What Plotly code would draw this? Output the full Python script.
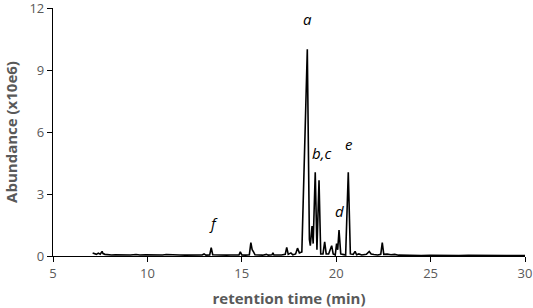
import plotly.graph_objects as go

time_min = [7.10, 7.20, 7.30, 7.40, 7.50, 7.60, 7.65, 7.75, 7.90, 8.10, 8.30, 8.50, 8.70, 8.90,
            9.10, 9.40, 9.60, 9.90, 10.2, 10.5, 10.8, 11.0, 11.3, 11.5, 11.7, 12.0, 12.3, 12.6,
            12.9, 13.0, 13.1, 13.3, 13.38, 13.46, 13.6, 13.8, 14.0, 14.2, 14.4, 14.6, 14.85, 14.92,
            15.0, 15.2, 15.4, 15.48, 15.55, 15.62, 15.7, 15.9, 16.1, 16.3, 16.4, 16.6, 16.65, 16.7,
            16.9, 17.1, 17.3, 17.38, 17.46, 17.6, 17.7, 17.85, 17.95, 18.05, 18.18, 18.47, 18.58,
            18.63, 18.72, 18.78, 18.89, 18.98, 19.09, 19.18, 19.3, 19.39, 19.47, 19.6, 19.68, 19.76,
            19.84, 19.95, 20.02, 20.08, 20.15, 20.24, 20.35, 20.5, 20.64, 20.75, 20.9, 21.0, 21.08,
            21.2, 21.35, 21.6, 21.75, 21.85, 22.0, 22.2, 22.36, 22.44, 22.52, 22.7, 22.9, 23.1, 23.3,
            23.6, 24.0, 24.5, 25.0, 25.5, 26.0, 26.5, 27.0, 27.5, 28.0, 28.5, 29.0, 29.5, 30.0]
abundance = [0.15, 0.10, 0.08, 0.14, 0.09, 0.22, 0.12, 0.08, 0.06, 0.05, 0.06, 0.05, 0.05, 0.06,
             0.05, 0.07, 0.05, 0.06, 0.05, 0.06, 0.05, 0.07, 0.05, 0.07, 0.05, 0.04, 0.05, 0.04,
             0.05, 0.10, 0.04, 0.05, 0.40, 0.06, 0.05, 0.04, 0.05, 0.04, 0.05, 0.04, 0.05, 0.20,
             0.05, 0.04, 0.06, 0.65, 0.30, 0.20, 0.06, 0.05, 0.04, 0.08, 0.04, 0.06, 0.15, 0.05,
             0.04, 0.05, 0.08, 0.42, 0.08, 0.15, 0.06, 0.10, 0.38, 0.15, 0.20, 10.0, 0.80,
             0.50, 1.45, 0.60, 4.05, 0.30, 3.66, 0.10, 0.10, 0.68, 0.10, 0.10, 0.30, 0.50,
             0.10, 0.05, 0.60, 0.30, 1.25, 0.10, 0.08, 0.05, 4.05, 0.10, 0.08, 0.22, 0.06,
             0.10, 0.05, 0.08, 0.22, 0.10, 0.07, 0.05, 0.08, 0.65, 0.08, 0.09, 0.06, 0.08, 0.04,
             0.03, 0.03, 0.02, 0.03, 0.02, 0.02, 0.02, 0.03, 0.02, 0.02, 0.02, 0.02, 0.02, 0.02]

peak_labels = ["a", "b,c", "d", "e", "f"]
peak_label_x = [18.47, 19.2, 20.15, 20.7, 13.5]
peak_label_y = [11.45, 5.0, 2.2, 5.4, 1.6]

x_ticks = [5, 10, 15, 20, 25, 30]
y_ticks = [0, 3, 6, 9, 12]

gray = "#595959"
font = "Open Sans"

fig = go.Figure()
fig.add_trace(go.Scatter(x=time_min, y=abundance, mode="lines",
                         line=dict(color="black", width=1.6), showlegend=False))

for t, xx, yy in zip(peak_labels, peak_label_x, peak_label_y):
    fig.add_annotation(x=xx, y=yy, text="<i>" + t + "</i>", showarrow=False,
                       font=dict(family=font, size=15, color="black"))

fig.update_layout(
    width=533, height=308,
    margin=dict(l=53, r=8, t=8, b=52),
    paper_bgcolor="white", plot_bgcolor="white",
    font=dict(family=font, color=gray, size=12),
    xaxis=dict(range=[5, 30], tickvals=x_ticks, showgrid=False, zeroline=False,
               showline=True, linecolor="black", linewidth=1.2,
               ticks="outside", ticklen=5, tickcolor="black",
               ticklabeloverflow="allow", automargin=False,
               tickfont=dict(family=font, size=13, color=gray),
               title=dict(text="<b>retention time (min)</b>", standoff=12,
                          font=dict(family=font, size=15, color=gray))),
    yaxis=dict(range=[0, 12], tickvals=y_ticks, showgrid=False, zeroline=False,
               showline=True, linecolor="black", linewidth=1.2,
               ticks="outside", ticklen=5, tickcolor="black",
               ticklabeloverflow="allow", automargin=False,
               tickfont=dict(family=font, size=13, color=gray),
               title=dict(text="<b>Abundance (x10e6)</b>", standoff=8,
                          font=dict(family=font, size=15, color=gray))),
)

fig.write_html("out.html", config={"displayModeBar": False},
               post_script="document.body.style.margin='0';")
